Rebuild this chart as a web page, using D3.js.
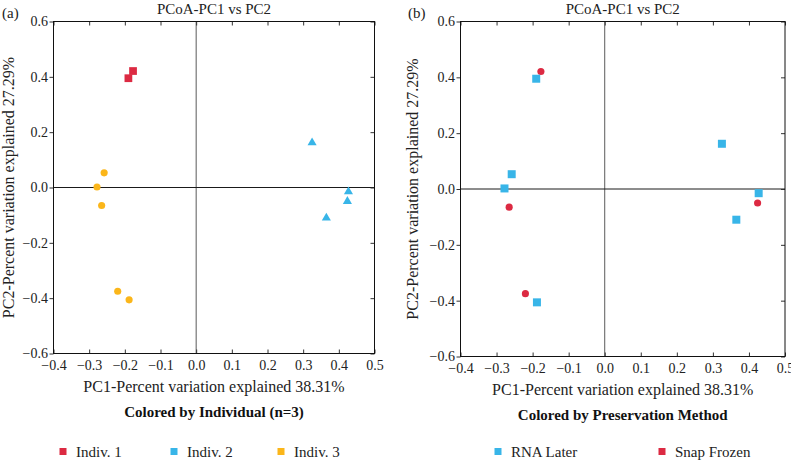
<!DOCTYPE html>
<html>
<head>
<meta charset="utf-8">
<script src="https://cdn.jsdelivr.net/npm/d3@7"></script>
<style>
  html, body { margin: 0; padding: 0; background: #fff; }
  svg { display: block; font-family: "Liberation Serif", "DejaVu Serif", serif; }
</style>
</head>
<body>
<svg id="chart" width="791" height="460"></svg>
<script>
// ---- data ----
const samples      = ["S1","S2","S3","S4","S5","S6","S7","S8","S9","S10","S11"];
const pc1          = [-0.177, -0.190, 0.325, 0.427, 0.424, 0.365, -0.258, -0.278, -0.265, -0.220, -0.188];
const pc2          = [ 0.421,  0.395, 0.162, -0.015, -0.050, -0.110, 0.053, 0.002, -0.065, -0.375, -0.406];
const individual   = ["Indiv. 1","Indiv. 1","Indiv. 2","Indiv. 2","Indiv. 2","Indiv. 2","Indiv. 3","Indiv. 3","Indiv. 3","Indiv. 3","Indiv. 3"];
const preservation = ["Snap Frozen","RNA Later","RNA Later","RNA Later","Snap Frozen","RNA Later","RNA Later","RNA Later","Snap Frozen","Snap Frozen","RNA Later"];

const individualGroups   = ["Indiv. 1","Indiv. 2","Indiv. 3"];
const preservationGroups = ["RNA Later","Snap Frozen"];

const xTicks = [-0.4,-0.3,-0.2,-0.1,0.0,0.1,0.2,0.3,0.4,0.5];
const yTicks = [-0.6,-0.4,-0.2,0.0,0.2,0.4,0.6];

const chartTitle = "PCoA-PC1 vs PC2";
const xLabel = "PC1-Percent variation explained 38.31%";
const yLabel = "PC2-Percent variation explained 27.29%";

const RED = "#dc2a42", BLUE = "#38b5e8", YELLOW = "#fbb61a";

const svg = d3.select("#chart");
const fmt = d3.format(".1f");

const rows = samples.map((s, i) => ({ s, pc1: pc1[i], pc2: pc2[i], ind: individual[i], pres: preservation[i] }));

function panel(o) {
  const g = svg.append("g");
  const x = d3.scaleLinear().domain([-0.4, 0.5]).range([o.left, o.right]);
  const y = d3.scaleLinear().domain([-0.6, 0.6]).range([o.bottom, o.top]);
  const cx = (o.left + o.right) / 2, cy = (o.top + o.bottom) / 2;

  // zero lines
  g.append("line").attr("x1", x(0)).attr("x2", x(0)).attr("y1", o.top).attr("y2", o.bottom)
    .attr("stroke", "#5a5a5a").attr("stroke-width", 1);
  g.append("line").attr("x1", o.left).attr("x2", o.right).attr("y1", y(0)).attr("y2", y(0))
    .attr("stroke", "#1a1a1a").attr("stroke-width", 1);

  // axes
  const ax = (sel) => { sel.select(".domain").remove(); sel.selectAll("line").attr("stroke", "#333");
    sel.selectAll("text").attr("fill", "#222").style("font-size", "14px").style("font-family", "Liberation Serif, serif"); };
  g.append("g").attr("transform", `translate(${o.left},0)`)
    .call(d3.axisLeft(y).tickValues(yTicks).tickSize(4).tickPadding(1.5).tickFormat(fmt)).call(ax);
  g.append("g").attr("transform", `translate(0,${o.bottom})`)
    .call(d3.axisBottom(x).tickValues(xTicks).tickSizeInner(-4).tickSizeOuter(0).tickPadding(6.5).tickFormat(fmt)).call(ax);
  g.append("g").attr("transform", `translate(0,${o.top})`)
    .call(d3.axisTop(x).tickValues(xTicks).tickSizeInner(-4).tickSizeOuter(0).tickFormat("")).call(ax);
  g.append("g").attr("transform", `translate(${o.right},0)`)
    .call(d3.axisRight(y).tickValues(yTicks).tickSizeInner(-4).tickSizeOuter(0).tickFormat("")).call(ax);

  // frame
  g.append("rect").attr("x", o.left).attr("y", o.top)
    .attr("width", o.right - o.left).attr("height", o.bottom - o.top)
    .attr("fill", "none").attr("stroke", "#111").attr("stroke-width", 1);

  // points
  g.append("g").selectAll("path").data(rows).join("path")
    .attr("transform", d => `translate(${x(d.pc1)},${y(d.pc2)})`)
    .attr("d", d => d3.symbol().type(o.shape(d)).size(o.size(d))())
    .attr("fill", d => o.color(d));

  // texts
  g.append("text").attr("x", cx).attr("y", 13.5).attr("text-anchor", "middle")
    .style("font-size", "15px").attr("fill", "#222").text(chartTitle);
  g.append("text").attr("x", o.tagX).attr("y", 18).style("font-size", "15px").attr("fill", "#222").text(o.tag);
  g.append("text").attr("x", cx).attr("y", o.bottom + 38.5).attr("text-anchor", "middle")
    .style("font-size", "16px").attr("fill", "#222").text(xLabel);
  g.append("text").attr("transform", `translate(${o.yLabelX},${cy}) rotate(-90)`).attr("text-anchor", "middle")
    .style("font-size", "16px").attr("fill", "#222").text(yLabel);
  g.append("text").attr("x", cx).attr("y", o.bottom + 63.5).attr("text-anchor", "middle")
    .style("font-size", "15px").style("font-weight", "bold").attr("fill", "#111").text(o.caption);

  // legend
  const lg = g.append("g").selectAll("g").data(o.legend).join("g")
    .attr("transform", d => `translate(${d.x},451.5)`);
  lg.append("rect").attr("x", -3.5).attr("y", -3.5).attr("width", 7).attr("height", 7).attr("fill", d => d.color);
  lg.append("text").attr("x", 13).attr("y", 5).style("font-size", "15px").attr("fill", "#222").text(d => d.label);
}

const indColor = d3.scaleOrdinal().domain(individualGroups).range([RED, BLUE, YELLOW]);
const indShape = d3.scaleOrdinal().domain(individualGroups).range([d3.symbolSquare, d3.symbolTriangle, d3.symbolCircle]);
const indSize  = d3.scaleOrdinal().domain(individualGroups).range([60, 36, 40]);
const presColor = d3.scaleOrdinal().domain(preservationGroups).range([BLUE, RED]);
const presShape = d3.scaleOrdinal().domain(preservationGroups).range([d3.symbolSquare, d3.symbolCircle]);
const presSize  = d3.scaleOrdinal().domain(preservationGroups).range([64, 40]);

panel({
  left: 53.5, right: 374.5, top: 21.5, bottom: 353.5, tag: "(a)", tagX: 2, yLabelX: 14,
  caption: "Colored by Individual (n=3)",
  color: d => indColor(d.ind), shape: d => indShape(d.ind), size: d => indSize(d.ind),
  legend: individualGroups.map((k, i) => ({ label: k, color: indColor(k), x: [63, 174, 281][i] }))
});
panel({
  left: 460.5, right: 785, top: 21.5, bottom: 356.5, tag: "(b)", tagX: 408, yLabelX: 418,
  caption: "Colored by Preservation Method",
  color: d => presColor(d.pres), shape: d => presShape(d.pres), size: d => presSize(d.pres),
  legend: preservationGroups.map((k, i) => ({ label: k, color: presColor(k), x: [498, 662][i] }))
});
</script>
</body>
</html>
